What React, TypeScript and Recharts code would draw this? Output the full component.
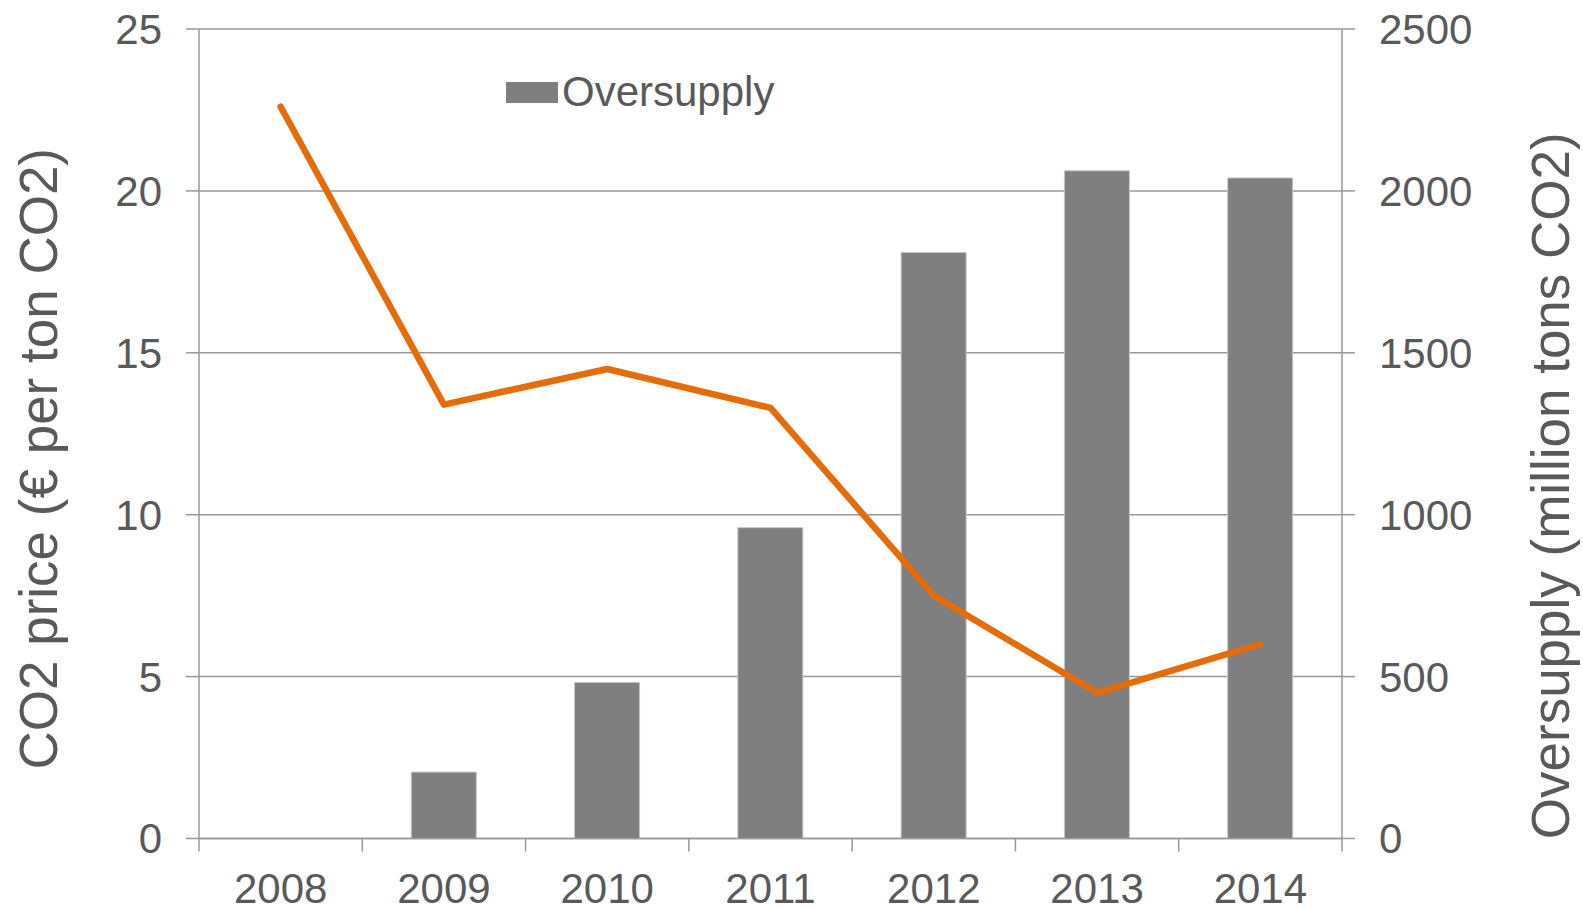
import {
  ComposedChart,
  Bar,
  Line,
  XAxis,
  YAxis,
  CartesianGrid,
  Legend,
} from "recharts";

const years = ["2008", "2009", "2010", "2011", "2012", "2013", "2014"];
const co2Price = [22.6, 13.4, 14.5, 13.3, 7.5, 4.5, 6.0];
const oversupply = [0, 205, 482, 960, 1810, 2062, 2040];

const leftTicks = [0, 5, 10, 15, 20, 25];
const rightTicks = [0, 500, 1000, 1500, 2000, 2500];

const FONT = "'Liberation Sans', Arial, Helvetica, sans-serif";
const TEXT = "#595959";
const GRID = "#989898";
const X_TICK_MARGIN = 35;
const TICK_LEN = 13;

const chartData = years.map((year, i) => ({
  year,
  price: co2Price[i],
  oversupply: oversupply[i],
}));

const tickStyle = { fill: TEXT, fontSize: 42, fontFamily: FONT };

// year label at the band centre, tick marks on the band edges (Excel style)
function YearTick(props: any) {
  const { x, y, payload, index, visibleTicksCount, width } = props;
  const half =
    typeof payload?.offset === "number" && payload.offset > 0
      ? payload.offset
      : width / visibleTicksCount / 2;
  const axisY = y - X_TICK_MARGIN;
  return (
    <g>
      <line
        x1={x - half}
        x2={x - half}
        y1={axisY}
        y2={axisY + TICK_LEN}
        stroke={GRID}
        strokeWidth={1.5}
      />
      {index === visibleTicksCount - 1 && (
        <line
          x1={x + half}
          x2={x + half}
          y1={axisY}
          y2={axisY + TICK_LEN}
          stroke={GRID}
          strokeWidth={1.5}
        />
      )}
      <text
        x={x}
        y={y}
        dy="0.71em"
        textAnchor="middle"
        fill={TEXT}
        fontSize={42}
        fontFamily={FONT}
      >
        {payload.value}
      </text>
    </g>
  );
}

function LegendBox() {
  return (
    <div style={{ display: "flex", alignItems: "center", fontFamily: FONT }}>
      <div style={{ width: 52, height: 21, background: "#7f7f7f", marginRight: 4 }} />
      <span style={{ fontSize: 42, lineHeight: "42px", color: TEXT }}>Oversupply</span>
    </div>
  );
}

export default function App() {
  return (
    <div style={{ position: "absolute", left: 0, top: 0, background: "#fff" }}>
      <ComposedChart
        width={1583}
        height={908}
        data={chartData}
        margin={{ top: 29, right: 0, bottom: 0, left: 0 }}
        barCategoryGap="30%"
      >
        <CartesianGrid
          horizontal
          vertical={false}
          yAxisId="left"
          stroke={GRID}
          strokeWidth={1.5}
        />
        <XAxis
          dataKey="year"
          height={69.5}
          axisLine={{ stroke: GRID, strokeWidth: 1.5 }}
          tickLine={false}
          tickSize={0}
          tickMargin={X_TICK_MARGIN}
          tick={<YearTick />}
          interval={0}
        />
        <YAxis
          yAxisId="left"
          orientation="left"
          width={199}
          domain={[0, 25]}
          ticks={leftTicks}
          tickSize={TICK_LEN}
          tickMargin={24}
          tick={tickStyle}
          axisLine={{ stroke: GRID, strokeWidth: 1.5 }}
          tickLine={{ stroke: GRID, strokeWidth: 1.5 }}
          label={{
            value: "CO2 price (€ per ton CO2)",
            angle: -90,
            position: "center",
            dx: -61,
            dy: 25,
            fill: TEXT,
            fontSize: 53,
            fontFamily: FONT,
          }}
        />
        <YAxis
          yAxisId="right"
          orientation="right"
          width={241}
          domain={[0, 2500]}
          ticks={rightTicks}
          tickSize={TICK_LEN}
          tickMargin={24}
          tick={tickStyle}
          axisLine={{ stroke: GRID, strokeWidth: 1.5 }}
          tickLine={{ stroke: GRID, strokeWidth: 1.5 }}
          label={{
            value: "Oversupply (million tons CO2)",
            angle: -90,
            position: "center",
            dx: 88,
            dy: 52,
            fill: TEXT,
            fontSize: 53,
            fontFamily: FONT,
          }}
        />
        <Legend
          layout="horizontal"
          align="center"
          verticalAlign="middle"
          wrapperStyle={{ top: 71, left: 506, width: "auto", height: 42 }}
          content={() => <LegendBox />}
        />
        <Bar
          yAxisId="right"
          dataKey="oversupply"
          fill="#7f7f7f"
          stroke="#c4c4c4"
          strokeWidth={1}
          isAnimationActive={false}
        />
        <Line
          yAxisId="left"
          dataKey="price"
          type="linear"
          stroke="#E46C0A"
          strokeWidth={6.5}
          strokeLinecap="round"
          strokeLinejoin="round"
          dot={false}
          activeDot={false}
          isAnimationActive={false}
        />
      </ComposedChart>
    </div>
  );
}
